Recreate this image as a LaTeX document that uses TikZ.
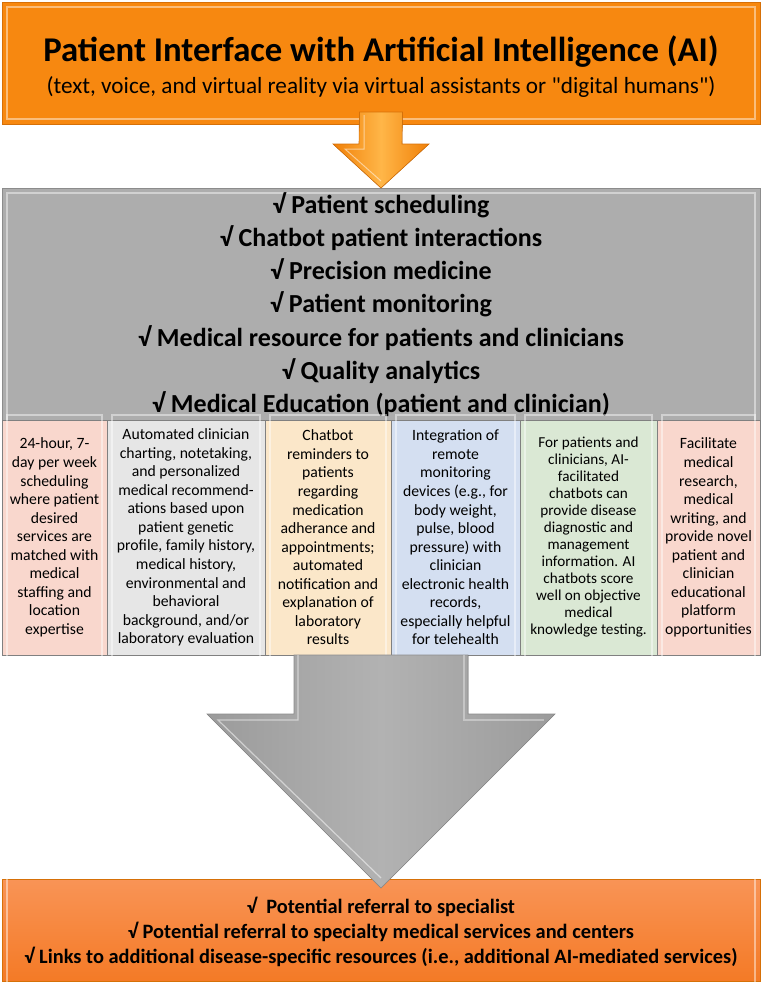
\documentclass[tikz,border=0pt]{standalone}
\usepackage{fontspec}
\setmainfont{Carlito}[Ligatures=TeXOff]
\definecolor{orTop}{RGB}{247,136,16}
\definecolor{orEdge}{RGB}{214,112,8}
\definecolor{greyBox}{RGB}{173,173,173}
\definecolor{greyEdge}{RGB}{140,140,140}
\definecolor{cPink}{RGB}{249,215,205}
\definecolor{cGrey}{RGB}{230,230,230}
\definecolor{cTan}{RGB}{251,231,201}
\definecolor{cBlue}{RGB}{212,223,241}
\definecolor{cGreen}{RGB}{218,232,212}
\definecolor{cellEdge}{RGB}{128,128,128}
\definecolor{orBotTop}{RGB}{249,148,86}
\definecolor{orBotBot}{RGB}{244,122,38}
\definecolor{arrOr}{RGB}{240,128,8}
\definecolor{arrOrLight}{RGB}{255,182,72}
\definecolor{arrGrey}{RGB}{155,155,155}
\definecolor{arrGreyLight}{RGB}{178,178,178}
\tikzset{
  panel/.style={rectangle, outer sep=0pt, inner sep=0pt, line width=0.8pt},
  cellbox/.style={panel, draw=cellEdge, line width=1pt, minimum height=235pt, align=center,
    font=\fontsize{15.7}{18.55}\selectfont},
  bevel/.style={draw=white, opacity=0.45, line width=1.2pt},
  bigline/.style={font=\fontsize{26}{33.2}\selectfont\bfseries, align=center, inner sep=0pt},
}
\begin{document}
\begin{tikzpicture}[x=1pt,y=-1pt]
\useasboundingbox (0,0) rectangle (762,986);
% top box
\node[panel, draw=orEdge, fill=orTop, minimum width=758pt, minimum height=122pt] (top) at (381,63) {};
\draw[bevel] ([shift={(5pt,5pt)}]top.south west) rectangle ([shift={(-5pt,-5pt)}]top.north east);
\node[font=\fontsize{34.7}{40}\selectfont\bfseries, inner sep=0pt] (title) at (381,52) {Patient Interface with Artificial Intelligence (AI)};
\node[font=\fontsize{23.2}{26}\selectfont, inner sep=0pt] (subtitle) at (381,87) {(text, voice, and virtual reality via virtual assistants or "digital humans")};
% grey box
\node[panel, draw=greyEdge, fill=greyBox, minimum width=758pt, minimum height=232pt] (mid) at (381,304) {};
\draw[bevel] ([shift={(5pt,0pt)}]mid.south west) -- ([shift={(5pt,-5pt)}]mid.north west) -- ([shift={(-5pt,-5pt)}]mid.north east) -- ([shift={(-5pt,0pt)}]mid.south east);
\node[bigline] (midtext) at (381,304.5) {√ Patient scheduling\\
√ Chatbot patient interactions\\
√ Precision medicine\\
√ Patient monitoring\\
√ Medical resource for patients and clinicians\\
√ Quality analytics\\
√ Medical Education (patient and clinician)};
% cells
\node[cellbox, fill=cPink, minimum width=105pt] (c1) at (54.5,537.5) {24-hour, 7-\\day per week\\scheduling\\where patient\\desired\\services are\\matched with\\medical\\staffing and\\location\\expertise};
\node[cellbox, fill=cGrey, minimum width=158pt] (c2) at (186,537.5) {Automated clinician\\charting, notetaking,\\and personalized\\medical recommend-\\ations based upon\\patient genetic\\profile, family history,\\medical history,\\environmental and\\behavioral\\background, and/or\\laboratory evaluation};
\node[cellbox, fill=cTan, minimum width=126pt] (c3) at (328,537.5) {Chatbot\\reminders to\\patients\\regarding\\medication\\adherance and\\appointments;\\automated\\notification and\\explanation of\\laboratory\\results};
\node[cellbox, fill=cBlue, minimum width=129pt] (c4) at (455.5,537.5) {Integration of\\remote\\monitoring\\devices (e.g., for\\body weight,\\pulse, blood\\pressure) with\\clinician\\electronic health\\records,\\especially helpful\\for telehealth};
\node[cellbox, fill=cGreen, minimum width=137pt, font=\fontsize{15.2}{17}\selectfont] (c5) at (588.5,537.5) {For patients and\\clinicians, AI-\\facilitated\\chatbots can\\provide disease\\diagnostic and\\management\\information. AI\\chatbots score\\well on objective\\medical\\knowledge testing.};
\node[cellbox, fill=cPink, minimum width=103pt] (c6) at (708.5,537.5) {Facilitate\\medical\\research,\\medical\\writing, and\\provide novel\\patient and\\clinician\\educational\\platform\\opportunities};
\foreach \c in {c1,c2,c3,c4,c5,c6}{
  \draw[bevel] ([shift={(5pt,-5pt)}]\c.south west) rectangle ([shift={(-5pt,5pt)}]\c.north east);
}
% bottom box
\node[panel, draw=orEdge, top color=orBotTop, bottom color=orBotBot, minimum width=758pt, minimum height=102pt] (bot) at (381,930) {};
\draw[bevel] ([shift={(5pt,-4pt)}]bot.south west) rectangle ([shift={(-5pt,5pt)}]bot.north east);
\node[font=\fontsize{20.4}{25}\selectfont\bfseries, align=center, inner sep=0pt] (bottext) at (381,932) {√\ \ Potential referral to specialist\\
√ Potential referral to specialty medical services and centers\\
√ Links to additional disease-specific resources (i.e., additional AI-mediated services)};
% small arrow
\coordinate (sa) at (381,112);
\coordinate (satip) at (381,188);
\fill[left color=arrOr, right color=arrOr, middle color=arrOrLight, draw=orEdge, line width=0.6pt]
  ([xshift=-21.5pt]sa) -- ([xshift=21.5pt]sa) -- (402,144) -- (429,144) -- (satip) -- (333,144) -- (359,144) -- cycle;
\draw[white, opacity=0.5, line width=1pt] (364,115) -- (364,149) -- (345,149) -- (381,181);
% big arrow
\coordinate (ba) at (381,655);
\coordinate (batip) at (381,888);
\fill[left color=arrGrey, right color=arrGrey, middle color=arrGreyLight, draw=greyEdge, line width=0.6pt]
  ([xshift=-87pt]ba) -- ([xshift=87pt]ba) -- (468,714) -- (555,714) -- (batip) -- (207,714) -- (294,714) -- cycle;
\draw[white, opacity=0.5, line width=1.2pt] (298,655) -- (298,720) -- (218,720) -- (381,878);
\draw[white, opacity=0.35, line width=1.2pt] (464,655) -- (464,720) -- (544,720);
\end{tikzpicture}
\end{document}
